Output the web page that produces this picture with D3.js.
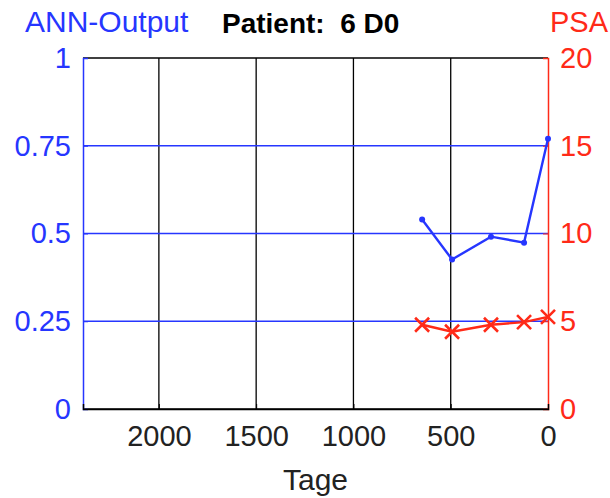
<!DOCTYPE html>
<html>
<head>
<meta charset="utf-8">
<script src="https://cdn.jsdelivr.net/npm/d3@7"></script>
<style>
  html, body { margin: 0; padding: 0; background: #fff; }
  text { font-family: "Liberation Sans", Arial, sans-serif; }
</style>
</head>
<body>
<svg id="chart" width="610" height="498"></svg>
<script>
// data
var days = [647, 493, 293, 123, 0];
var annOutput = [0.54, 0.426, 0.491, 0.474, 0.77];
var psa = [4.8, 4.4, 4.8, 4.95, 5.25];
var xTicks = [2000, 1500, 1000, 500, 0];
var annTicks = [0, 0.25, 0.5, 0.75, 1];
var psaTicks = [0, 5, 10, 15, 20];

var blue = "#2636ff", red = "#ff2a18";
var m = {left: 83, right: 62, top: 58, bottom: 89};
var svg = d3.select("#chart"),
    W = +svg.attr("width"), H = +svg.attr("height"),
    w = W - m.left - m.right, h = H - m.top - m.bottom;

var x = d3.scaleLinear().domain([2390, 0]).range([0, w]);
var yL = d3.scaleLinear().domain([0, 1]).range([h, 0]);
var yR = d3.scaleLinear().domain([0, 20]).range([h, 0]);

var g = svg.append("g").attr("transform", "translate(" + m.left + "," + m.top + ")");

// grid
g.selectAll(".vgrid").data(xTicks.filter(function(d) { return d > 0; })).enter().append("line")
  .attr("x1", x).attr("x2", x).attr("y1", 0).attr("y2", h)
  .attr("stroke", "#000").attr("stroke-width", 1.3);
g.selectAll(".hgrid").data(annTicks.filter(function(d) { return d > 0 && d < 1; })).enter().append("line")
  .attr("x1", 0).attr("x2", w).attr("y1", yL).attr("y2", yL)
  .attr("stroke", blue).attr("stroke-width", 1.3);

// box
g.append("line").attr("x1", 0).attr("x2", w).attr("y1", 0).attr("y2", 0).attr("stroke", "#000").attr("stroke-width", 1.3);
g.append("line").attr("x1", 0).attr("x2", w).attr("y1", h).attr("y2", h).attr("stroke", "#000").attr("stroke-width", 1.3);

// axes
var axL = g.append("g").call(d3.axisLeft(yL).tickValues(annTicks).tickFormat(d3.format("")).tickSize(-5).tickPadding(12));
var axR = g.append("g").attr("transform", "translate(" + w + ",0)")
  .call(d3.axisRight(yR).tickValues(psaTicks).tickSize(-5).tickPadding(12));
var axB = g.append("g").attr("transform", "translate(0," + h + ")")
  .call(d3.axisBottom(x).tickValues(xTicks).tickFormat(d3.format("d")).tickSize(-5).tickPadding(16));

[[axL, blue], [axR, red], [axB, "#000"]].forEach(function(a) {
  a[0].selectAll(".domain").attr("stroke", a[1]).attr("stroke-width", 1.5);
  a[0].selectAll(".tick line").attr("stroke", a[1]);
  a[0].selectAll(".tick text").attr("fill", a[1]).style("font-size", "29px")
    .style("font-family", "'Liberation Sans', Arial, sans-serif");
});
axB.selectAll(".domain").attr("stroke", "#000");
axB.selectAll(".tick text").attr("fill", "#222");

// ANN series
g.append("path").datum(days.map(function(d, i) { return [d, annOutput[i]]; }))
  .attr("fill", "none").attr("stroke", blue).attr("stroke-width", 2.4)
  .attr("d", d3.line().x(function(d) { return x(d[0]); }).y(function(d) { return yL(d[1]); }));
g.selectAll(".dot").data(days).enter().append("circle")
  .attr("cx", x).attr("cy", function(d, i) { return yL(annOutput[i]); })
  .attr("r", 3).attr("fill", blue);

// PSA series
g.append("path").datum(days.map(function(d, i) { return [d, psa[i]]; }))
  .attr("fill", "none").attr("stroke", red).attr("stroke-width", 2.4)
  .attr("d", d3.line().x(function(d) { return x(d[0]); }).y(function(d) { return yR(d[1]); }));
var s = 7;
g.selectAll(".cross").data(days).enter().append("path")
  .attr("transform", function(d, i) { return "translate(" + x(d) + "," + yR(psa[i]) + ")"; })
  .attr("d", "M" + -s + "," + -s + "L" + s + "," + s + "M" + -s + "," + s + "L" + s + "," + -s)
  .attr("stroke", red).attr("stroke-width", 2.6).attr("fill", "none");

// labels
svg.append("text").attr("x", 25).attr("y", 32).attr("fill", blue).style("font-size", "30px").text("ANN-Output");
svg.append("text").attr("x", 608).attr("y", 32).attr("text-anchor", "end").attr("fill", red).style("font-size", "29px").text("PSA");
svg.append("text").attr("x", 222).attr("y", 33).attr("fill", "#000").style("font-size", "28px").style("font-weight", "bold")
  .attr("xml:space", "preserve").style("white-space", "pre").text("Patient:  6 D0");
svg.append("text").attr("x", m.left + w / 2).attr("y", 490).attr("text-anchor", "middle").attr("fill", "#222")
  .style("font-size", "30px").text("Tage");
</script>
</body>
</html>
